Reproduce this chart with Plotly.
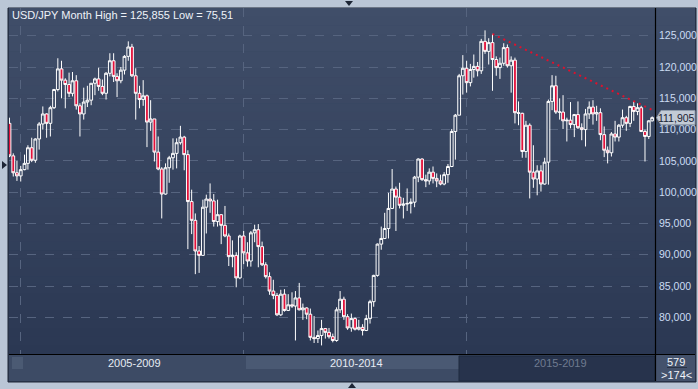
import plotly.graph_objects as go
import pandas as pd

# ---------------- data (monthly USD/JPY, Oct 2004 - Mar 2019) ----------------
months = pd.date_range("2004-10-01", periods=174, freq="MS")

opens = [
    111.0, 105.8, 103.1,
    102.6, 103.6, 104.6, 107.1, 105.1, 108.5, 110.9, 112.5, 111.0, 113.5, 116.4, 119.7,
    117.9, 117.2, 115.8, 117.8, 113.8, 112.5, 114.4, 114.7, 117.4, 118.1, 116.9, 115.8,
    119.0, 121.0, 118.5, 117.8, 119.5, 121.7, 123.2, 118.6, 115.8, 114.8, 115.4, 111.2,
    111.7, 106.4, 103.7, 99.7, 103.9, 105.5, 106.2, 107.9, 108.8, 106.0, 98.5, 95.5,
    90.6, 89.9, 97.6, 98.9, 98.6, 95.3, 96.4, 94.7, 93.0, 89.7, 89.9, 86.3,
    93.0, 90.3, 89.0, 93.5, 94.0, 91.3, 88.4, 86.5, 84.2, 83.5, 80.4, 83.7,
    81.1, 82.0, 81.8, 83.1, 81.2, 81.5, 80.5, 76.8, 76.6, 77.1, 78.2, 77.6,
    76.9, 76.3, 81.2, 82.9, 80.1, 78.3, 79.8, 78.1, 78.4, 77.9, 79.8, 82.5,
    86.7, 91.7, 92.6, 94.2, 97.4, 100.5, 99.2, 97.9, 98.1, 98.2, 98.4, 102.4,
    105.3, 102.0, 101.8, 103.2, 102.2, 101.8, 101.3, 102.8, 104.1, 109.7, 112.3, 118.6,
    119.8, 117.5, 119.6, 120.1, 119.4, 124.1, 122.5, 123.9, 121.2, 119.9, 120.6, 123.1,
    120.2, 121.1, 112.7, 112.6, 106.5, 110.7, 103.2, 102.1, 103.4, 101.3, 104.8, 114.5,
    117.0, 112.8, 112.8, 111.4, 111.5, 110.8, 112.4, 110.3, 110.0, 112.5, 113.6, 112.5,
    112.7, 109.2, 106.7, 106.3, 109.3, 108.8, 110.7, 111.9, 111.0, 113.7, 112.9, 113.5,
    109.7, 108.9, 111.4,
]
highs = [
    111.9, 106.2, 105.0,
    104.2, 106.0, 107.5, 108.7, 108.6, 111.2, 113.7, 112.6, 113.8, 116.5, 121.4, 121.0,
    118.2, 119.1, 119.2, 118.7, 114.2, 116.7, 117.0, 117.4, 118.3, 119.9, 118.0, 119.2,
    122.2, 122.2, 119.0, 120.0, 121.9, 124.1, 123.7, 119.8, 117.0, 117.9, 115.6, 114.7,
    111.7, 108.9, 104.0, 104.6, 105.8, 108.6, 108.6, 110.6, 109.0, 106.7, 100.4, 96.6,
    91.4, 98.8, 99.6, 101.4, 99.7, 98.8, 96.5, 97.8, 93.4, 92.3, 90.4, 93.2,
    93.8, 92.0, 93.8, 94.8, 94.9, 92.1, 88.8, 87.2, 86.0, 83.9, 84.4, 84.5,
    83.7, 84.0, 84.2, 85.5, 82.2, 81.6, 81.4, 80.2, 77.9, 79.6, 78.3, 78.3,
    77.4, 81.6, 84.2, 83.3, 80.5, 80.6, 80.0, 79.6, 78.9, 80.4, 82.8, 86.8,
    91.8, 94.5, 96.7, 99.9, 103.7, 100.9, 101.5, 99.1, 100.6, 99.0, 102.6, 105.4,
    105.4, 102.8, 103.8, 104.1, 103.0, 102.8, 103.2, 104.5, 110.1, 112.5, 118.9, 121.9,
    121.0, 120.5, 122.0, 120.8, 124.5, 125.855, 124.6, 125.3, 121.7, 121.5, 123.8, 123.6,
    121.7, 121.5, 114.5, 112.7, 111.4, 111.0, 107.5, 104.3, 104.3, 105.5, 114.8, 118.7,
    118.6, 115.0, 115.5, 111.9, 114.4, 112.5, 114.5, 111.0, 113.3, 114.5, 114.7, 113.8,
    113.4, 110.5, 107.3, 109.6, 111.4, 110.9, 113.2, 112.2, 113.8, 114.55, 114.2, 113.8,
    110.0, 111.5, 112.1,
]
lows = [
    105.6, 102.5, 101.8,
    101.7, 103.5, 103.6, 104.8, 104.7, 106.8, 110.0, 108.7, 108.9, 113.3, 116.1, 115.0,
    113.4, 115.2, 115.3, 113.2, 108.9, 111.6, 113.6, 113.9, 115.5, 116.2, 115.5, 114.8,
    118.5, 117.6, 115.2, 117.4, 118.8, 121.0, 118.4, 111.6, 113.4, 113.8, 107.2, 109.8,
    104.9, 103.5, 95.8, 99.6, 101.5, 103.6, 103.8, 107.6, 103.5, 90.9, 93.3, 86.9,
    87.1, 89.9, 93.4, 96.7, 94.5, 94.5, 91.7, 92.8, 88.2, 88.0, 84.8, 86.1,
    88.5, 88.1, 88.1, 92.0, 88.0, 88.2, 86.2, 83.6, 82.9, 80.2, 80.2, 80.9,
    81.0, 81.5, 76.3, 81.1, 79.6, 79.7, 76.3, 75.9, 75.9, 75.51, 76.6, 76.6,
    76.0, 76.1, 80.7, 79.6, 78.0, 77.7, 77.9, 77.9, 77.1, 77.8, 79.0, 81.7,
    86.5, 90.8, 92.5, 92.6, 97.3, 93.8, 97.4, 95.8, 97.0, 96.6, 97.6, 101.6,
    101.8, 100.8, 101.2, 101.4, 100.8, 101.1, 101.1, 101.5, 104.0, 105.2, 112.3, 115.6,
    115.9, 116.9, 118.3, 118.5, 118.9, 122.1, 120.4, 116.2, 118.6, 118.1, 120.2, 119.9,
    115.9, 110.99, 110.7, 105.5, 105.5, 99.0, 100.7, 99.5, 100.1, 101.2, 101.2, 113.1,
    112.5, 111.6, 110.1, 108.1, 110.2, 108.8, 110.1, 108.3, 107.3, 111.7, 110.8, 111.4,
    108.3, 105.6, 104.6, 105.7, 108.1, 108.1, 110.3, 109.8, 110.4, 111.4, 112.3, 109.6,
    104.9, 108.5, 111.3,
]
closes = [
    105.8, 103.1, 102.6,
    103.6, 104.6, 107.1, 105.1, 108.5, 110.9, 112.5, 111.0, 113.5, 116.4, 119.7, 117.9,
    117.2, 115.8, 117.8, 113.8, 112.5, 114.4, 114.7, 117.4, 118.1, 116.9, 115.8, 119.0,
    121.0, 118.5, 117.8, 119.5, 121.7, 123.2, 118.6, 115.8, 114.8, 115.4, 111.2, 111.7,
    106.4, 103.7, 99.7, 103.9, 105.5, 106.2, 107.9, 108.8, 106.0, 98.5, 95.5, 90.6,
    89.9, 97.6, 98.9, 98.6, 95.3, 96.4, 94.7, 93.0, 89.7, 89.9, 86.3, 93.0,
    90.3, 89.0, 93.5, 94.0, 91.3, 88.4, 86.5, 84.2, 83.5, 80.4, 83.7, 81.1,
    82.0, 81.8, 83.1, 81.2, 81.5, 80.5, 76.8, 76.6, 77.1, 78.2, 77.6, 76.9,
    76.3, 81.2, 82.9, 80.1, 78.3, 79.8, 78.1, 78.4, 77.9, 79.8, 82.5, 86.7,
    91.7, 92.6, 94.2, 97.4, 100.5, 99.2, 97.9, 98.1, 98.2, 98.4, 102.4, 105.3,
    102.0, 101.8, 103.2, 102.2, 101.8, 101.3, 102.8, 104.1, 109.7, 112.3, 118.6, 119.8,
    117.5, 119.6, 120.1, 119.4, 124.1, 122.5, 123.9, 121.2, 119.9, 120.6, 123.1, 120.2,
    121.1, 112.7, 112.6, 106.5, 110.7, 103.2, 102.1, 103.4, 101.3, 104.8, 114.5, 117.0,
    112.8, 112.8, 111.4, 111.5, 110.8, 112.4, 110.3, 110.0, 112.5, 113.6, 112.5, 112.7,
    109.2, 106.7, 106.3, 109.3, 108.8, 110.7, 111.9, 111.0, 113.7, 112.9, 113.5, 109.7,
    108.9, 111.4, 111.905,
]

# trend line anchors (Aug 2015 high -> Oct 2018 high), extended to the right edge
trend_dates = ["2015-08-01", "2018-10-01"]
trend_values = [125.28, 114.55]

y_ticks = [80, 85, 90, 95, 100, 105, 110, 115, 120, 125]
y_tick_labels = ["80,000", "85,000", "90,000", "95,000", "100,000",
                 "105,000", "110,000", "115,000", "120,000", "125,000"]
grid_dates = ["2005-01-01", "2010-01-01", "2015-01-01"]
period_labels = ["2005-2009", "2010-2014", "2015-2019"]
bars_total, bars_visible = "579", ">174<"

# ---------------- geometry helpers ----------------
W, H = 698, 389
L, R, T, B = 9, 655, 8, 354
X_START, X_END = "2004-09-27", "2019-03-24"


def px(x):
    return (x - L) / (R - L)


def py(y):
    return (B - y) / (B - T)


def fmt(v):
    return f"{v:.3f}".rstrip("0").replace(".", ",")


FONT = "Liberation Sans, Arial, sans-serif"

fig = go.Figure()

fig.add_trace(go.Candlestick(
    x=months, open=opens, high=highs, low=lows, close=closes,
    increasing=dict(line=dict(color="#ffffff", width=1), fillcolor="rgba(0,0,0,0)"),
    decreasing=dict(line=dict(color="#ffffff", width=1), fillcolor="#e3103a"),
    whiskerwidth=0, hoverinfo="skip", showlegend=False,
))

# trend line
t0, t1 = pd.Timestamp(trend_dates[0]), pd.Timestamp(trend_dates[1])
tend = pd.Timestamp(X_END)
slope = (trend_values[1] - trend_values[0]) / (t1 - t0).days
trend_x = [t0, tend]
trend_y = [trend_values[0], trend_values[0] + slope * (tend - t0).days]
fig.add_trace(go.Scatter(
    x=trend_x, y=trend_y, mode="lines",
    line=dict(color="#e0102c", width=2, dash="2px,4px"),
    hoverinfo="skip", showlegend=False,
))

shapes = []
# chart panel
shapes.append(dict(type="rect", xref="paper", yref="paper", layer="below",
                   x0=px(8), x1=px(696), y0=py(382), y1=py(8),
                   fillcolor="#2f3c56", line=dict(color="#1e2636", width=1)))
# vertical gradient in plot + axis area
N = 40
top_c = (0x40, 0x4e, 0x69)
bot_c = (0x2b, 0x38, 0x53)
for i in range(N):
    f = i / (N - 1)
    c = tuple(round(top_c[k] + (bot_c[k] - top_c[k]) * f) for k in range(3))
    y0 = T + (B - T) * i / N
    y1 = T + (B - T) * (i + 1) / N
    shapes.append(dict(type="rect", xref="paper", yref="paper", layer="below",
                       x0=px(9), x1=px(695), y0=py(y1 + 0.5), y1=py(y0),
                       fillcolor="rgb(%d,%d,%d)" % c, line=dict(width=0)))
# bottom navigator bar
shapes.append(dict(type="rect", xref="paper", yref="paper", layer="below",
                   x0=px(9), x1=px(655), y0=py(381), y1=py(355),
                   fillcolor="#3d4b65", line=dict(width=0)))
shapes.append(dict(type="rect", xref="paper", yref="paper", layer="below",
                   x0=px(12), x1=px(23), y0=py(369), y1=py(357),
                   fillcolor="#4b5a73", line=dict(width=0)))
shapes.append(dict(type="rect", xref="paper", yref="paper", layer="below",
                   x0=px(246), x1=px(459), y0=py(369), y1=py(356),
                   fillcolor="#4a5973", line=dict(width=0)))
shapes.append(dict(type="rect", xref="paper", yref="paper", layer="below",
                   x0=px(459), x1=px(655), y0=py(381), y1=py(356),
                   fillcolor="#27334c", line=dict(color="#1f2a3f", width=1)))
shapes.append(dict(type="rect", xref="paper", yref="paper", layer="below",
                   x0=px(656), x1=px(695), y0=py(381), y1=py(355),
                   fillcolor="#44526c", line=dict(width=0)))
shapes.append(dict(type="line", xref="paper", yref="paper",
                   x0=px(667), x1=px(687), y0=py(367.5), y1=py(367.5),
                   line=dict(color="#2a3346", width=1)))
# black separator lines
shapes.append(dict(type="line", xref="paper", yref="paper",
                   x0=px(9), x1=px(695), y0=py(354.5), y1=py(354.5),
                   line=dict(color="#000000", width=1.2)))
shapes.append(dict(type="line", xref="paper", yref="paper",
                   x0=px(655.5), x1=px(655.5), y0=py(381), y1=py(8),
                   line=dict(color="#000000", width=1.2)))
# current price marker (arrow box)
last = closes[-1]
hh = 1.15
shapes.append(dict(type="path", xref="paper", yref="y",
                   path="M %f %f L %f %f L %f %f L %f %f L %f %f Z" % (
                       px(656.5), last, px(661), last + hh, px(695), last + hh,
                       px(695), last - hh, px(661), last - hh),
                   fillcolor="#c3cbd6", line=dict(color="#8f9bab", width=1)))


# frame triangles
def tri(pts, color="#1d2535"):
    d = "M " + " L ".join("%f %f" % (px(a), py(b)) for a, b in pts) + " Z"
    return dict(type="path", xref="paper", yref="paper", path=d,
                fillcolor=color, line=dict(width=0))


shapes.append(tri([(345, 1), (353, 1), (349, 6)]))
shapes.append(tri([(2, 161), (2, 169), (7, 165)]))
shapes.append(tri([(348, 388), (356, 388), (352, 383)]))

annotations = [
    dict(xref="paper", yref="paper", x=px(10), y=py(15), xanchor="left", yanchor="middle",
         text="USD/JPY Month High = %s Low = %s" % (fmt(max(highs)), fmt(min(lows))),
         showarrow=False, font=dict(family=FONT, size=11, color="#eef2f8")),
    dict(xref="paper", yref="y", x=px(676), y=last, xanchor="center", yanchor="middle",
         text=fmt(last), showarrow=False,
         font=dict(family=FONT, size=10.5, color="#1a2233")),
    dict(xref="paper", yref="paper", x=px(134), y=py(363), xanchor="center", yanchor="middle",
         text=period_labels[0], showarrow=False,
         font=dict(family=FONT, size=11, color="#e6ebf3")),
    dict(xref="paper", yref="paper", x=px(356), y=py(363), xanchor="center", yanchor="middle",
         text=period_labels[1], showarrow=False,
         font=dict(family=FONT, size=11, color="#e6ebf3")),
    dict(xref="paper", yref="paper", x=px(560), y=py(363), xanchor="center", yanchor="middle",
         text=period_labels[2], showarrow=False,
         font=dict(family=FONT, size=11, color="#6f7b90")),
    dict(xref="paper", yref="paper", x=px(676), y=py(362), xanchor="center", yanchor="middle",
         text=bars_total, showarrow=False,
         font=dict(family=FONT, size=11, color="#f0f3f8")),
    dict(xref="paper", yref="paper", x=px(676), y=py(375), xanchor="center", yanchor="middle",
         text=bars_visible.replace("<", "&lt;").replace(">", "&gt;"), showarrow=False,
         font=dict(family=FONT, size=11, color="#f0f3f8")),
]

fig.update_layout(
    width=W, height=H,
    margin=dict(l=L, r=W - R, t=T, b=H - B, pad=0, autoexpand=False),
    paper_bgcolor="#bac6d6",
    plot_bgcolor="rgba(0,0,0,0)",
    showlegend=False,
    boxgap=0.18, boxgroupgap=0,
    shapes=shapes,
    annotations=annotations,
    xaxis=dict(
        type="date", range=[X_START, X_END],
        rangeslider=dict(visible=False),
        showticklabels=False, ticks="",
        tickvals=grid_dates,
        showgrid=True, gridcolor="#56647f", griddash="dash", gridwidth=1,
        zeroline=False, showline=False, fixedrange=True, automargin=False,
    ),
    yaxis=dict(
        side="right", range=[74.14, 129.43],
        tickvals=y_ticks, ticktext=y_tick_labels,
        tickfont=dict(family=FONT, size=10.5, color="#cbdcf3"),
        ticks="", ticklabelstandoff=3,
        showgrid=True, gridcolor="#56647f", griddash="dash", gridwidth=1,
        zeroline=False, showline=False, fixedrange=True, automargin=False,
    ),
)

fig.write_html(
    "out.html",
    config={"displayModeBar": False, "staticPlot": True},
    post_script="document.body.style.margin='0';document.body.style.overflow='hidden';",
)
